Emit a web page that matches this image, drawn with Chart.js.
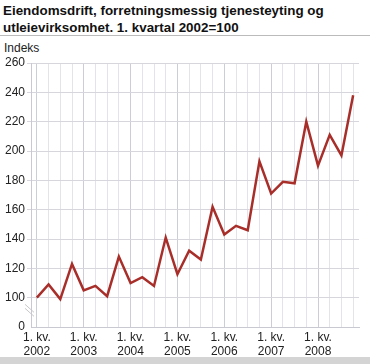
<!DOCTYPE html>
<html>
<head>
<meta charset="utf-8">
<script src="https://cdn.jsdelivr.net/npm/chart.js@4"></script>
<style>
  body { margin: 0; background: #fff; }
  #wrap { position: relative; width: 370px; height: 364px; overflow: hidden; font-family: "Liberation Sans", Arial, sans-serif; }
  #title { position: absolute; left: 3px; top: 2px; font-size: 13.4px; font-weight: bold; line-height: 17px; color: #111; }
  #rule { position: absolute; left: 0; top: 35px; width: 370px; height: 1px; background: #bbb; }
  #unit { position: absolute; left: 4px; top: 41px; font-size: 12px; color: #222; }
  #band { position: absolute; left: 0; top: 357px; width: 370px; height: 7px; background: #d4d4d4; }
  canvas { position: absolute; left: 0; top: 0; }
</style>
</head>
<body>
<div id="wrap">
  <div id="title">Eiendomsdrift, forretningsmessig tjenesteyting og<br>utleievirksomhet. 1. kvartal 2002=100</div>
  <div id="rule"></div>
  <div id="unit">Indeks</div>
  <canvas id="chart" width="370" height="364"></canvas>
  <div id="band"></div>
</div>
<script>
// one entry per quarter, 2002 Q1 - 2008 Q4
const years = ["2002", "2003", "2004", "2005", "2006", "2007", "2008"];
const quarters = ["1", "2", "3", "4"];
const index = [
  100, 109, 99, 123,
  105, 108, 101, 128,
  110, 114, 108, 141,
  116, 132, 126, 162,
  143, 149, 146, 193,
  171, 179, 178, 220,
  190, 211, 197, 238
];

const labels = [];
years.forEach(y => quarters.forEach(q => labels.push(q + ". kv. " + y)));

// draws the little "\\" axis break between 0 and 100
const breakMark = {
  id: "breakMark",
  afterDraw(chart) {
    const ctx = chart.ctx;
    const y = chart.scales.y.getPixelForValue(90);
    ctx.save();
    ctx.strokeStyle = "#c8c8c8";
    ctx.lineWidth = 1;
    [-2, 2].forEach(d => {
      ctx.beginPath();
      ctx.moveTo(25, y - 6 + d);
      ctx.lineTo(34, y + 2 + d);
      ctx.stroke();
    });
    ctx.restore();
  }
};

new Chart(document.getElementById("chart"), {
  type: "line",
  data: {
    labels: labels,
    datasets: [{
      data: index,
      borderColor: "#a82e2a",
      borderWidth: 2.5,
      pointRadius: 0,
      tension: 0,
      fill: false
    }]
  },
  options: {
    responsive: false,
    animation: false,
    layout: { padding: { top: 63, right: 11, left: 0, bottom: 7 } },
    plugins: { legend: { display: false }, tooltip: { enabled: false } },
    scales: {
      x: {
        offset: true,
        afterFit(s) { s.height = 30; },
        grid: {
          drawTicks: false,
          color: c => (c.index % 4 === 0 ? "#cdcdd5" : "#e3e3e9")
        },
        border: { color: "#c9c9d1" },
        ticks: {
          autoSkip: false,
          maxRotation: 0,
          padding: 3,
          color: "#222",
          font: { family: "Liberation Sans", size: 12 },
          callback: (v, i) => (i % 4 === 0 ? ["1. kv.", years[i / 4]] : "")
        }
      },
      y: {
        min: 80,
        max: 260,
        afterFit(s) { s.width = 31; },
        grid: {
          tickLength: 4,
          color: c => (c.tick.value === 80 ? "rgba(0,0,0,0)" : "#d6d6dc")
        },
        border: { color: "#c9c9d1" },
        ticks: {
          stepSize: 20,
          padding: 2,
          color: "#222",
          font: { family: "Liberation Sans", size: 12 },
          callback: v => (v === 80 ? "0" : v)
        }
      }
    }
  },
  plugins: [breakMark]
});
</script>
</body>
</html>
